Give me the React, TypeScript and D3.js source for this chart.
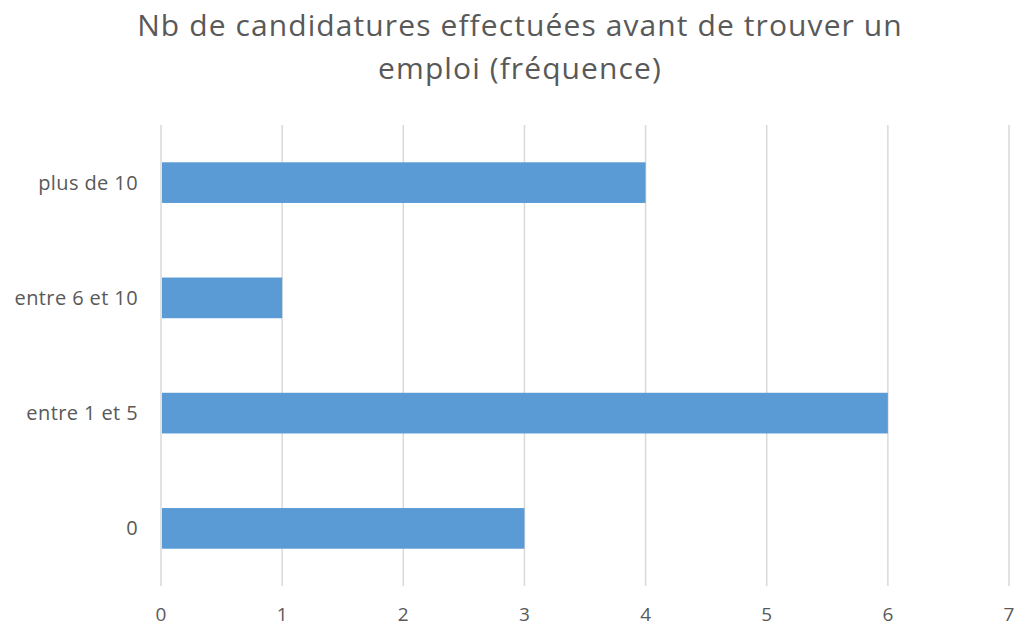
import React, { useRef, useEffect } from 'react';
import * as d3 from 'd3';

// data
const categories: string[] = ['plus de 10', 'entre 6 et 10', 'entre 1 et 5', '0'];
const frequencies: number[] = [4, 1, 6, 3];
const xTicks: number[] = [0, 1, 2, 3, 4, 5, 6, 7];
const titleLines: string[] = ['Nb de candidatures effectuées avant de trouver un', 'emploi (fréquence)'];

const App: React.FC = () => {
  const svgRef = useRef<SVGSVGElement | null>(null);

  useEffect(() => {
    const svg = d3.select(svgRef.current);
    svg.selectAll('*').remove();

    const width = 1020;
    const height = 628;
    const margin = { top: 125, right: 11, bottom: 42, left: 161 };
    const font = '"Open Sans", "Liberation Sans", sans-serif';
    const textColor = '#595959';

    svg.append('rect').attr('width', width).attr('height', height).attr('fill', '#ffffff');

    const x = d3.scaleLinear()
      .domain([0, 7])
      .range([margin.left, width - margin.right]);

    const y = d3.scaleBand()
      .domain(categories)
      .range([margin.top, height - margin.bottom])
      .paddingInner(0.647)
      .paddingOuter(0.3235);

    // title
    svg.append('g')
      .selectAll('text')
      .data(titleLines)
      .join('text')
      .attr('x', 520)
      .attr('y', (_, i) => 36 + i * 43)
      .attr('text-anchor', 'middle')
      .attr('font-family', font)
      .attr('font-size', 30)
      .attr('letter-spacing', 1.1)
      .attr('fill', textColor)
      .text((d) => d);

    // gridlines
    svg.append('g')
      .selectAll('line')
      .data(xTicks)
      .join('line')
      .attr('x1', (d) => x(d))
      .attr('x2', (d) => x(d))
      .attr('y1', margin.top)
      .attr('y2', height - margin.bottom)
      .attr('stroke', '#d9d9d9')
      .attr('stroke-width', 1.5);

    // bars
    svg.append('g')
      .selectAll('rect')
      .data(categories)
      .join('rect')
      .attr('x', x(0) + 1)
      .attr('y', (d) => y(d) as number)
      .attr('width', (_, i) => x(frequencies[i]) - x(0) - 1)
      .attr('height', y.bandwidth())
      .attr('fill', '#5b9bd5');

    // x tick labels
    svg.append('g')
      .selectAll('text')
      .data(xTicks)
      .join('text')
      .attr('x', (d) => x(d))
      .attr('y', 621)
      .attr('text-anchor', 'middle')
      .attr('font-family', font)
      .attr('font-size', 19)
      .attr('fill', textColor)
      .text((d) => String(d));

    // category labels
    svg.append('g')
      .selectAll('text')
      .data(categories)
      .join('text')
      .attr('x', 138)
      .attr('y', (d) => (y(d) as number) + y.bandwidth() / 2)
      .attr('dy', '0.35em')
      .attr('text-anchor', 'end')
      .attr('font-family', font)
      .attr('font-size', 20)
      .attr('letter-spacing', 0.4)
      .attr('fill', textColor)
      .text((d) => d);
  }, []);

  return (
    <svg ref={svgRef} width="1020" height="628" style={{ display: 'block', position: 'absolute', left: 0, top: 0 }}></svg>
  );
};

export default App;
